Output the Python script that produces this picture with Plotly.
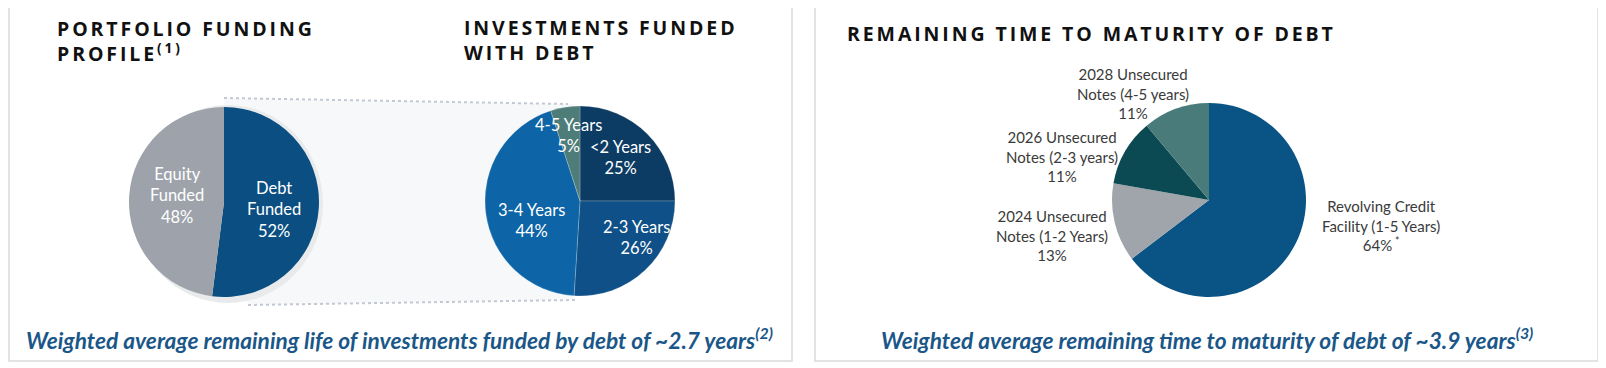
import plotly.graph_objects as go

# The page body has an 8px default margin; the figure is sized to fill the rest.
OFF = 8
W, H = 1606 - OFF, 368 - OFF

# ---------------- data ----------------
funding_labels = ["Debt Funded", "Equity Funded"]
funding_values = [52, 48]
funding_text = ["Debt<br>Funded", "Equity<br>Funded"]

life_labels = ["<2 Years", "2-3 Years", "3-4 Years", "4-5 Years"]
life_values = [25, 26, 44, 5]

maturity_labels = ["Revolving Credit Facility (1-5 Years)",
                   "2024 Unsecured Notes (1-2 Years)",
                   "2026 Unsecured Notes (2-3 years)",
                   "2028 Unsecured Notes (4-5 years)"]
maturity_values = [64, 13, 11, 11]
maturity_text = ["Revolving Credit<br>Facility (1-5 Years)",
                 "2024 Unsecured<br>Notes (1-2 Years)",
                 "2026 Unsecured<br>Notes (2-3 years)",
                 "2028 Unsecured<br>Notes (4-5 years)"]
maturity_suffix = ["<sup> *</sup>", "", "", ""]

titles = ["PORTFOLIO FUNDING<br>PROFILE<sup>(1)</sup>",
          "INVESTMENTS FUNDED<br>WITH DEBT",
          "REMAINING TIME TO MATURITY OF DEBT"]
footers = ["Weighted average remaining life of investments funded by debt of ~2.7 years<sup>(2)</sup>",
           "Weighted average remaining time to maturity of debt of ~3.9 years<sup>(3)</sup>"]

# ---------------- style ----------------
funding_colors = ["#0b4f82", "#9ea3ab"]
life_colors = ["#0c3b63", "#0f5088", "#0d64a6", "#4e7d79"]
maturity_colors = ["#0a5485", "#a0a4ab", "#0b4a53", "#4a7b7b"]

LABEL_FONT = "Lato"
TITLE_FONT = "Open Sans"


def px(x):
    return (x - OFF) / W


def py(y):
    return 1 - (y - OFF) / H


def domain(cx, cy, r):
    return dict(x=[px(cx - r), px(cx + r)], y=[py(cy + r), py(cy - r)])


fig = go.Figure()

pie_common = dict(sort=False, direction="clockwise", rotation=0,
                  textinfo="none", hoverinfo="label+percent",
                  showlegend=False)

fig.add_trace(go.Pie(labels=funding_labels, values=funding_values,
                     marker=dict(colors=funding_colors, line=dict(width=0)),
                     domain=domain(224, 202, 95), **pie_common))
fig.add_trace(go.Pie(labels=life_labels, values=life_values,
                     marker=dict(colors=life_colors, line=dict(color="rgba(255,255,255,0.35)", width=0.6)),
                     domain=domain(580, 201, 95), **pie_common))
fig.add_trace(go.Pie(labels=maturity_labels, values=maturity_values,
                     marker=dict(colors=maturity_colors, line=dict(width=0)),
                     domain=domain(1209, 200, 97), **pie_common))

shapes = []
# panel boxes
shapes.append(dict(type="rect", xref="paper", yref="paper", layer="below",
                   x0=px(9), x1=px(792), y0=py(361), y1=py(6),
                   line=dict(color="#dadada", width=1.5), fillcolor="white"))
shapes.append(dict(type="rect", xref="paper", yref="paper", layer="below",
                   x0=px(815), x1=px(1598), y0=py(361), y1=py(6),
                   line=dict(color="#dadada", width=1.5), fillcolor="white"))
# faint zoom band between the two left pies
shapes.append(dict(type="path", xref="paper", yref="paper", layer="below",
                   path="M {},{} L {},{} L {},{} L {},{} Z".format(
                       px(224), py(98), px(575), py(104), px(575), py(300), px(248), py(305)),
                   line=dict(width=0), fillcolor="#f6f8fa"))
# shadow crescent behind left pie
shapes.append(dict(type="circle", xref="paper", yref="paper", layer="below",
                   x0=px(133), x1=px(323), y0=py(303), y1=py(105),
                   line=dict(width=0), fillcolor="#e9eaec"))
# dotted connector lines
shapes.append(dict(type="line", xref="paper", yref="paper", layer="below",
                   x0=px(224), y0=py(98), x1=px(568), y1=py(104),
                   line=dict(color="#c3c9d2", width=2, dash="dot")))
shapes.append(dict(type="line", xref="paper", yref="paper", layer="below",
                   x0=px(248), y0=py(305), x1=px(575), y1=py(300),
                   line=dict(color="#c3c9d2", width=2, dash="dot")))

annotations = []


def ann(text, x, y, size, color, family=LABEL_FONT, xanchor="center", weight=None,
        style=None):
    f = dict(family=family, size=size, color=color)
    if weight:
        f["weight"] = weight
    if style:
        f["style"] = style
    annotations.append(dict(text=text, x=px(x), y=py(y), xref="paper", yref="paper",
                            xanchor=xanchor, yanchor="middle", showarrow=False,
                            align="center" if xanchor == "center" else "left",
                            font=f))


# left pie labels (white, inside)
funding_pos = [(274, 209), (177, 195)]
for t, v, (x, y) in zip(funding_text, funding_values, funding_pos):
    ann(f"{t}<br>{v}%", x, y, 16.5, "white")

life_pos = [(620, 157), (636, 237), (531, 220), (568, 135)]
for t, v, (x, y) in zip(life_labels, life_values, life_pos):
    ann(f"{t.replace('<', '&lt;')}<br>{v}%", x, y, 16.5, "white")

# right pie labels (outside, dark text)
maturity_pos = [(1381, 226), (1052, 235), (1062, 156), (1133, 93)]
for t, v, s, (x, y) in zip(maturity_text, maturity_values, maturity_suffix, maturity_pos):
    ann(f"{t}<br>{v}%{s}", x, y, 15, "#3a3a3a")

# titles
LS = '<span style="letter-spacing:2.9px">{}</span>'
title_pos = [(55, 41), (462, 40), (845, 34)]
for t, (x, y) in zip(titles, title_pos):
    lines = t.split("<br>")
    txt = "<br>".join(LS.format(l) for l in lines)
    ann(txt, x, y, 19.5, "#111111", family=TITLE_FONT, xanchor="left", weight=700)

# footers
footer_pos = [(399, 338), (1207, 338)]
for t, (x, y) in zip(footers, footer_pos):
    ann(t, x, y, 22.7, "#1a5788", family=LABEL_FONT, weight=700, style="italic")

fig.update_layout(width=W, height=H, margin=dict(l=0, r=0, t=0, b=0),
                  paper_bgcolor="white", plot_bgcolor="white",
                  shapes=shapes, annotations=annotations)

fig.write_html("out.html")
